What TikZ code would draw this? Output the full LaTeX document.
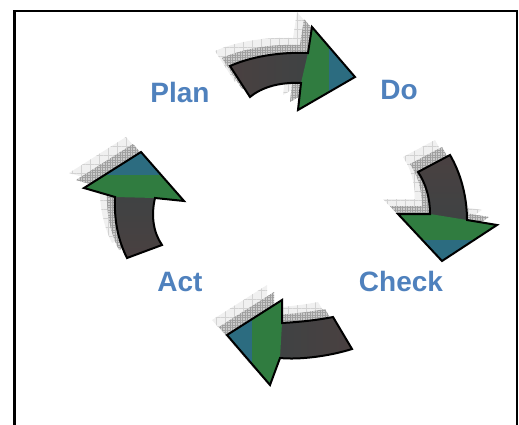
\documentclass[tikz,border=0pt]{standalone}
\usepackage{fontspec}
\setmainfont{Liberation Sans}
\usetikzlibrary{patterns.meta}
\definecolor{bodyA}{RGB}{74,64,64}
\definecolor{bodyB}{RGB}{56,68,70}
\definecolor{hgreen}{RGB}{48,124,64}
\definecolor{hblue}{RGB}{44,108,128}
\definecolor{lbl}{RGB}{79,129,189}
\def\ArrTop{(230,66) .. controls (255,55) and (285,52) .. (308,53) -- (312,27) -- (355,77) -- (298,110) -- (301,83) .. controls (280,82) and (262,87) .. (250,97) -- cycle}
\def\HeadTop{(308,53) -- (312,27) -- (355,77) -- (298,110) -- (301,83) -- cycle}
\def\ArrRight{(418,172) -- (450,155) .. controls (460,172) and (467,195) .. (467,220) -- (497,225) -- (442,261) -- (398,214) -- (430,214) .. controls (430,198) and (426,184) .. (418,172) -- cycle}
\def\HeadRight{(430,214) -- (398,214) -- (442,261) -- (497,225) -- (467,220) -- cycle}
\def\ArrLeft{(127,258) -- (162,245) .. controls (153,232) and (151,215) .. (155,198) -- (184,201) -- (141,152) -- (84,188) -- (115,197) .. controls (114,220) and (118,240) .. (127,258) -- cycle}
\def\HeadLeft{(115,197) -- (84,188) -- (141,152) -- (184,201) -- (155,198) -- cycle}
\def\ArrBot{(333,317) -- (352,349) .. controls (330,356) and (300,360) .. (280,358) -- (270,385) -- (227,335) -- (282,300) -- (282,323) .. controls (300,322) and (318,320) .. (333,317) -- cycle}
\def\HeadBot{(282,323) -- (282,300) -- (227,335) -- (270,385) -- (280,358) -- cycle}
\tikzset{
  shadowlight/.style={fill=gray!12, postaction={pattern={Hatch[angle=0,distance=9pt,line width=0.4pt]}, pattern color=gray!35}},
  shadowdark/.style={fill=gray!40, postaction={pattern={Hatch[angle=0,distance=2.5pt,line width=0.3pt]}, pattern color=gray!75}},
  outline/.style={draw=black, line width=2pt, line join=miter},
  lab/.style={text=lbl, font=\bfseries\fontsize{28}{32}\selectfont, inner sep=0pt},
  frame/.style={draw=black, line width=2.4pt}
}
\begin{document}
\begin{tikzpicture}[x=1pt,y=-1pt]
\useasboundingbox (0,0) rectangle (519,425);
\clip (0,0) rectangle (519,425);
% frame
\draw[frame] (14.3,430) -- (14.3,11) -- (516.8,11) -- (516.8,430);
% shadows
\foreach \s/\t in {-15/-15} {
  \fill[shadowlight, shift={(\s,\t)}] \ArrTop;
  \fill[shadowlight, shift={(\s,\t)}] \ArrRight;
  \fill[shadowlight, shift={(\s,\t)}] \ArrLeft;
  \fill[shadowlight, shift={(\s,\t)}] \ArrBot;
}
\foreach \s/\t in {-8/-8} {
  \fill[shadowdark, shift={(\s,\t)}] \ArrTop;
  \fill[shadowdark, shift={(\s,\t)}] \ArrRight;
  \fill[shadowdark, shift={(\s,\t)}] \ArrLeft;
  \fill[shadowdark, shift={(\s,\t)}] \ArrBot;
}
% top arrow (Plan -> Do)
\begin{scope}
  \clip \ArrTop;
  \shade[left color=bodyA, right color=bodyB] (225,20) rectangle (360,115);
  \fill[hgreen] \HeadTop;
  \fill[hblue] (329,20) rectangle (360,115);
\end{scope}
\draw[outline] \ArrTop;
% right arrow (Do -> Check)
\begin{scope}
  \clip \ArrRight;
  \shade[top color=bodyA, bottom color=bodyB] (395,150) rectangle (500,265);
  \fill[hgreen] \HeadRight;
  \fill[hblue] (395,240) rectangle (500,265);
\end{scope}
\draw[outline] \ArrRight;
% bottom arrow (Check -> Act)
\begin{scope}
  \clip \ArrBot;
  \shade[left color=bodyB, right color=bodyA] (225,295) rectangle (355,390);
  \fill[hgreen] \HeadBot;
  \fill[hblue] (225,295) rectangle (252,390);
\end{scope}
\draw[outline] \ArrBot;
% left arrow (Act -> Plan)
\begin{scope}
  \clip \ArrLeft;
  \shade[top color=bodyB, bottom color=bodyA] (80,150) rectangle (190,262);
  \fill[hgreen] \HeadLeft;
  \fill[hblue] (80,150) rectangle (190,175);
\end{scope}
\draw[outline] \ArrLeft;
% labels
\node[lab] (plan) at (180,92) {Plan};
\node[lab] (do) at (399,90) {Do};
\node[lab] (check) at (401,281) {Check};
\node[lab] (act) at (180,282) {Act};
\end{tikzpicture}
\end{document}
